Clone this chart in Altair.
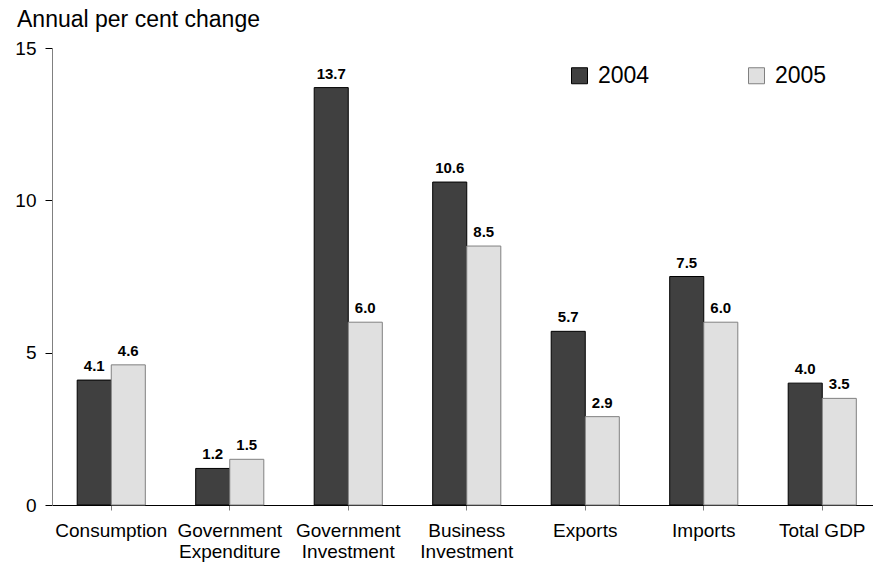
import altair as alt
import pandas as pd

categories = ["Consumption", "Government Expenditure", "Government Investment",
              "Business Investment", "Exports", "Imports", "Total GDP"]
years = ["2004", "2005"]
v2004 = [4.1, 1.2, 13.7, 10.6, 5.7, 7.5, 4.0]
v2005 = [4.6, 1.5, 6.0, 8.5, 2.9, 6.0, 3.5]
y_ticks = [0, 5, 10, 15]
y_title = "Annual per cent change"

rows = []
for c, a, b in zip(categories, v2004, v2005):
    rows.append({"cat": c, "year": "2004", "val": a})
    rows.append({"cat": c, "year": "2005", "val": b})
df = pd.DataFrame(rows)

FONT = "Liberation Sans"

x_enc = alt.X("cat:N", sort=categories,
              scale=alt.Scale(paddingInner=0, paddingOuter=0, range=[0, 829.5]),
              axis=alt.Axis(title=None, labelAngle=0, labelFontSize=19, labelFont=FONT,
                            labelColor="#000", labelBaseline="top", labelPadding=11,
                            labelLineHeight=21.7, tickSize=5, tickColor="#808080",
                            domainColor="#000", labelLimit=200,
                            labelExpr="datum.label == 'Total GDP' ? datum.label : split(datum.label, ' ')"))
xo_enc = alt.XOffset("year:N", sort=years,
                     scale=alt.Scale(paddingInner=0, paddingOuter=0.74))
y_enc = alt.Y("val:Q", scale=alt.Scale(domain=[0, 15], nice=False),
              axis=alt.Axis(title=None, values=y_ticks, grid=False, labelFontSize=19,
                            labelFont=FONT, labelColor="#000", tickSize=7, tickColor="#000",
                            domainColor="#808080", labelPadding=9))

bars = alt.Chart(df).mark_bar(strokeWidth=1).encode(
    x=x_enc, xOffset=xo_enc, y=y_enc,
    color=alt.Color("year:N", sort=years,
                    scale=alt.Scale(domain=years, range=["#404040", "#E0E0E0"]),
                    legend=alt.Legend(title=None, orient="none", direction="horizontal",
                                      legendX=516, legendY=16, symbolType="square",
                                      symbolSize=256, symbolStrokeColor="#000",
                                      symbolStrokeWidth=1, labelFontSize=23, labelFont=FONT,
                                      labelColor="#000", labelOffset=7, columnPadding=95)),
    stroke=alt.Stroke("year:N", sort=years,
                      scale=alt.Scale(domain=years, range=["#000000", "#808080"]),
                      legend=None),
)

labels = alt.Chart(df).mark_text(dy=-9, baseline="alphabetic", align="center",
                                 fontWeight="bold", fontSize=15, font=FONT, color="#000").encode(
    x=alt.X("cat:N", sort=categories), xOffset=alt.XOffset("year:N", sort=years),
    y="val:Q", text=alt.Text("val:Q", format=".1f"))

title = alt.Chart(pd.DataFrame({"t": [y_title]})).mark_text(
    align="left", baseline="alphabetic", fontSize=23, font=FONT, color="#000").encode(
    text="t:N", x=alt.value(-35), y=alt.value(-20.7))

chart = alt.layer(bars, labels, title).properties(
    width=821, height=457,
    autosize=alt.AutoSizeParams(type="none"),
    padding={"left": 52, "top": 48, "right": 0, "bottom": 62},
    background="white",
).configure_view(stroke=None)

chart.save("out.html", embed_options={"renderer": "svg", "actions": False})
